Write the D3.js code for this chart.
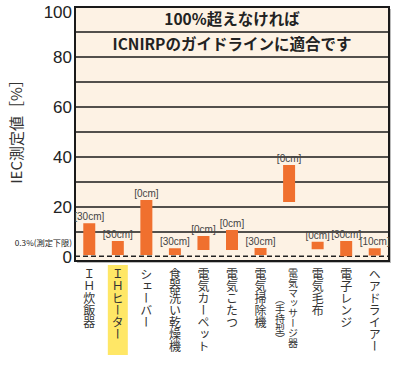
<!DOCTYPE html>
<html>
<head>
<meta charset="utf-8">
<script src="https://cdn.jsdelivr.net/npm/d3@7"></script>
<style>
  body { margin: 0; background: #fff; }
  svg { display: block; }
</style>
</head>
<body>
<svg width="400" height="365"></svg>
<script>
// appliances, measured ranges (min..max, % of guideline), measuring distance
const categories = ["ＩＨ炊飯器", "ＩＨヒーター", "シェーバー", "食器洗い乾燥機", "電気カーペット", "電気こたつ",
  "電気掃除機", "電気マッサージ器", "電気毛布", "電子レンジ", "ヘアドライアー"];
const subLabels = ["", "", "", "", "", "", "", "（手持型）", "", "", ""];
const lowValues = [0.8, 0.8, 0.8, 0.8, 2.8, 2.8, 0.8, 22, 3.1, 0.3, 0.6];
const highValues = [13.5, 6.4, 22.8, 3.5, 8.4, 10.8, 3.6, 36.8, 6.1, 6.4, 3.5];
const distances = ["[30cm]", "[30cm]", "[0cm]", "[30cm]", "[0cm]", "[0cm]", "[30cm]", "[0cm]", "[0cm]", "[30cm]", "[10cm]"];
const yTicks = [0, 20, 40, 60, 80, 100];
const gridLines = [10, 20, 30, 40, 50, 60, 70, 80, 90];
const lowerLimit = 0.3;
const highlighted = "ＩＨヒーター";

const svg = d3.select("svg");
const left = 75, right = 389;

const x = d3.scaleBand().domain(categories).range([left, right])
  .paddingInner(0.58).paddingOuter(0.29);
const y = d3.scaleLinear().domain([-1.6, 100]).range([261, 7]);

const data = categories.map((c, i) => ({
  name: c, sub: subLabels[i], lo: lowValues[i], hi: highValues[i], dist: distances[i]
}));

// frame shadow + background
svg.append("rect")
  .attr("x", left + 2).attr("y", y(100) + 2)
  .attr("width", right - left).attr("height", y(-1.6) - y(100))
  .attr("fill", "#bbb");
svg.append("rect")
  .attr("x", left).attr("y", y(100))
  .attr("width", right - left).attr("height", y(-1.6) - y(100))
  .attr("fill", "#fdf2e4");

// grid lines
svg.append("g").selectAll("line")
  .data(gridLines).enter()
  .append("line")
  .attr("x1", left).attr("x2", right)
  .attr("y1", d => y(d)).attr("y2", d => y(d))
  .attr("stroke", "#1a1a1a").attr("stroke-width", 1.6);

// lower measurement limit
svg.append("line")
  .attr("x1", left).attr("x2", right)
  .attr("y1", y(lowerLimit)).attr("y2", y(lowerLimit))
  .attr("stroke", "#222").attr("stroke-width", 1.3)
  .attr("stroke-dasharray", "5,3");

// frame
svg.append("rect")
  .attr("x", left).attr("y", y(100))
  .attr("width", right - left).attr("height", y(-1.6) - y(100))
  .attr("fill", "none").attr("stroke", "#1a1a1a").attr("stroke-width", 2);

// header texts
const header = svg.append("g")
  .attr("font-family", "'Noto Sans CJK JP', sans-serif")
  .attr("font-weight", "bold").attr("font-size", 15.5)
  .attr("fill", "#222").attr("text-anchor", "middle");
header.append("text").attr("x", (left + right) / 2).attr("y", (y(100) + y(90)) / 2)
  .attr("dy", "0.36em").text("100%超えなければ");
header.append("text").attr("x", (left + right) / 2).attr("y", (y(90) + y(80)) / 2)
  .attr("dy", "0.36em").text("ICNIRPのガイドラインに適合です");

// bars
svg.append("g").selectAll("rect")
  .data(data).enter()
  .append("rect")
  .attr("x", d => x(d.name))
  .attr("width", x.bandwidth())
  .attr("y", d => y(d.hi))
  .attr("height", d => y(d.lo) - y(d.hi))
  .attr("fill", "#f0702e");

// distance labels
svg.append("g")
  .attr("font-family", "'Liberation Sans', Arial, sans-serif")
  .attr("font-size", 10).attr("fill", "#444").attr("text-anchor", "middle")
  .selectAll("text")
  .data(data).enter()
  .append("text")
  .attr("x", d => x(d.name) + x.bandwidth() / 2)
  .attr("y", d => y(d.hi) - 3)
  .text(d => d.dist);

// y axis labels
svg.append("g")
  .attr("font-family", "'Liberation Sans', Arial, sans-serif")
  .attr("font-size", 17).attr("fill", "#222").attr("text-anchor", "end")
  .selectAll("text")
  .data(yTicks).enter()
  .append("text")
  .attr("x", left - 3)
  .attr("y", d => Math.max(y(d), 12))
  .attr("dy", "0.36em")
  .text(d => d);

svg.append("text")
  .attr("x", 72).attr("y", y(lowerLimit) - 10)
  .attr("font-family", "'Noto Sans CJK JP', sans-serif")
  .attr("font-size", 8.2).attr("fill", "#222").attr("text-anchor", "end")
  .text("0.3%(測定下限)");

svg.append("text")
  .attr("transform", "translate(22,128) rotate(-90)")
  .attr("font-family", "'Noto Sans CJK JP', sans-serif")
  .attr("font-size", 15).attr("fill", "#333").attr("text-anchor", "middle")
  .text("IEC測定値［%］");

// highlight behind one category
svg.append("rect")
  .attr("x", x(highlighted) + x.bandwidth() / 2 - 10)
  .attr("y", 265).attr("width", 20).attr("height", 90)
  .attr("fill", "#ffe766");

// vertical category labels
const labels = svg.append("g")
  .attr("font-family", "'Noto Sans CJK JP', sans-serif")
  .attr("fill", "#333");
labels.selectAll("text.main")
  .data(data).enter()
  .append("text")
  .attr("class", "main")
  .attr("x", d => x(d.name) + x.bandwidth() / 2 + (d.sub ? 4 : 0))
  .attr("y", 268)
  .attr("font-size", d => d.sub ? 10 : 12)
  .style("writing-mode", "vertical-rl")
  .text(d => d.name);
labels.selectAll("text.sub")
  .data(data.filter(d => d.sub)).enter()
  .append("text")
  .attr("class", "sub")
  .attr("x", d => x(d.name) + x.bandwidth() / 2 - 9)
  .attr("y", 294)
  .attr("font-size", 10)
  .style("writing-mode", "vertical-rl")
  .text(d => d.sub);
</script>
</body>
</html>
